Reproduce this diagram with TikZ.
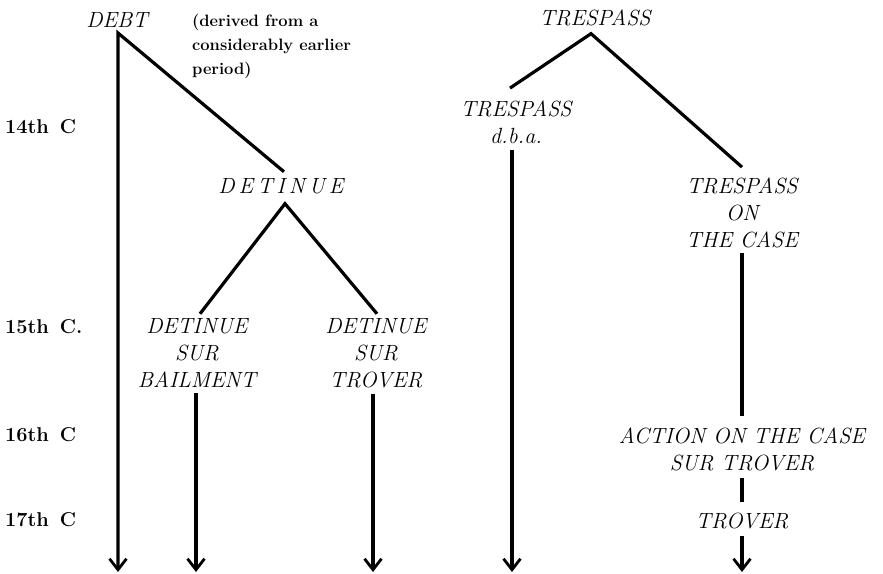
\documentclass[tikz,border=0pt]{standalone}
\usepackage{fontspec}
\usetikzlibrary{arrows.meta}
\begin{document}
\begin{tikzpicture}[x=1pt,y=-1pt,
  ital/.style={font=\fontsize{22}{27}\selectfont\itshape\addfontfeatures{FakeBold=1.6}, inner sep=0pt, align=center, anchor=base},
  cent/.style={font=\fontsize{20}{24}\selectfont\bfseries, inner sep=0pt, anchor=base west},
  note/.style={font=\fontsize{16.5}{24}\selectfont\bfseries, inner sep=0pt, align=left, anchor=base west},
  link/.style={line width=3.2pt, line join=miter},
  down/.style={link, -{Straight Barb[length=11pt,width=17pt,line width=2.8pt]}}]
\useasboundingbox (0,0) rectangle (883,573);
% texts (multi-line nodes are placed by the baseline of their last line)
\node[ital] (debt) at (117,27) {DEBT};
\node[note] (note) at (192,74) {(derived from a\\considerably earlier\\period)};
\node[cent] (c14) at (5,133) {14th\hspace{11pt}C};
\node[cent] (c15) at (5,333) {15th\hspace{11pt}C.};
\node[cent] (c16) at (5,441) {16th\hspace{11pt}C};
\node[cent] (c17) at (5,526) {17th\hspace{11pt}C};
\node[ital] (det) at (281,193) {D\kern4pt E\kern4pt T\kern4pt I\kern4pt N\kern4pt U\kern4pt E};
\node[ital] (bail) at (197,387) {DETINUE\\SUR\\BAILMENT};
\node[ital] (dsurt) at (376,387) {DETINUE\\SUR\\TROVER};
\node[ital] (tres) at (595,25) {TRESPASS};
\node[ital] (tdba) at (516,143) {TRESPASS\\d.b.a.};
\node[ital] (tcase) at (742,247) {TRESPASS\\ON\\THE CASE};
\node[ital] (aoc) at (742,470) {ACTION ON THE CASE\\SUR TROVER};
\node[ital] (trover) at (742,528) {TROVER};
% free ends
\coordinate (e1) at (118,572);
\coordinate (e2) at (196,572);
\coordinate (e3) at (373,572);
\coordinate (e4) at (512,572);
\coordinate (e5) at (742,572);
% connectors
\draw[down] ([xshift=3pt,yshift=6pt]det.north) -- ([xshift=1pt,yshift=-6pt]debt.base) -- (e1);
\draw[link] ([xshift=3pt,yshift=4pt]bail.north) -- ([xshift=4pt,yshift=-10pt]det.south) -- ([xshift=1pt,yshift=4pt]dsurt.north);
\draw[down] ([xshift=-1pt,yshift=-6pt]bail.south) -- (e2);
\draw[down] ([xshift=-3pt,yshift=-6pt]dsurt.south) -- (e3);
\draw[link] ([xshift=-6pt,yshift=12pt]tdba.north) -- ([xshift=-4pt,yshift=-8pt]tres.south) -- ([yshift=10pt]tcase.north);
\draw[down] ([xshift=-4pt,yshift=-7pt]tdba.south) -- (e4);
\draw[link] ([yshift=-5pt]tcase.south) -- ([yshift=11pt]aoc.north);
\draw[link] ([yshift=-7pt]aoc.south) -- ([yshift=10pt]trover.north);
\draw[down] ([yshift=-7pt]trover.south) -- (e5);
\end{tikzpicture}
\end{document}
